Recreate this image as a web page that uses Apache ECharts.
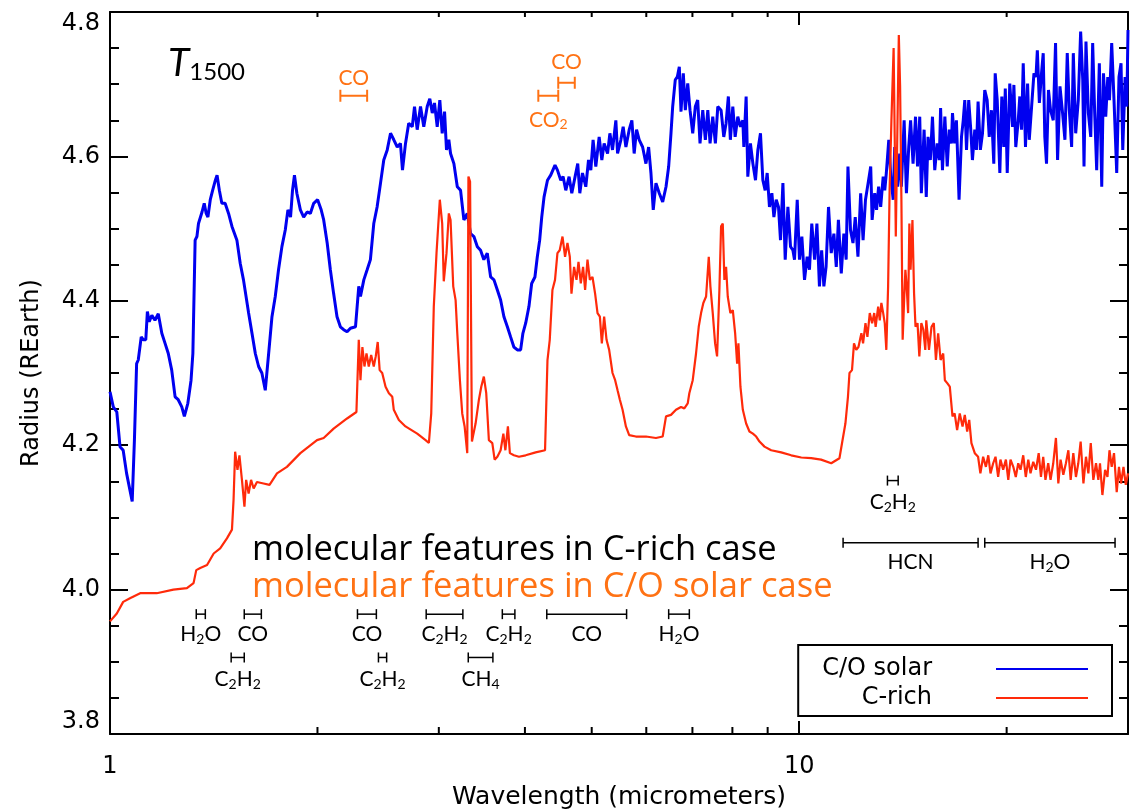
<!DOCTYPE html>
<html>
<head>
<meta charset="utf-8">
<script src="https://cdn.jsdelivr.net/npm/echarts@6/dist/echarts.min.js"></script>
<style>
  html, body { margin: 0; padding: 0; background: #fff; }
  #chart { width: 1142px; height: 812px; }
</style>
</head>
<body>
<div id="chart"></div>
<script>
// Transmission spectrum, T = 1500 K: planet radius versus wavelength
const solarWavelength = [
  1.000,1.011,1.023,1.034,1.045,1.057,1.077,1.085,1.093,1.099,1.110,1.118,1.127,1.133,1.140,1.150,1.162,1.175,1.189,1.202,
  1.215,1.229,1.243,1.256,1.271,1.282,1.297,1.311,1.319,1.329,1.337,1.344,1.360,1.370,1.379,1.387,1.398,1.409,1.422,1.430,
  1.441,1.453,1.469,1.486,1.503,1.528,1.545,1.562,1.589,1.607,1.625,1.643,1.661,1.680,1.699,1.718,1.737,1.756,1.776,1.796,
  1.812,1.828,1.840,1.852,1.867,1.889,1.910,1.932,1.953,1.975,2.001,2.025,2.042,2.066,2.088,2.111,2.135,2.159,2.183,2.208,
  2.233,2.271,2.296,2.309,2.335,2.361,2.387,2.414,2.441,2.469,2.496,2.525,2.553,2.581,2.611,2.639,2.657,2.684,2.713,2.745,
  2.766,2.791,2.822,2.853,2.886,2.911,2.935,2.957,2.984,3.010,3.034,3.058,3.078,3.102,3.120,3.155,3.191,3.226,3.262,3.299,
  3.336,3.373,3.412,3.449,3.487,3.527,3.567,3.607,3.648,3.688,3.729,3.772,3.813,3.855,3.900,3.943,3.973,4.010,4.054,4.091,
  4.136,4.169,4.202,4.231,4.264,4.313,4.360,4.423,4.459,4.509,4.544,4.585,4.636,4.678,4.730,4.772,4.805,4.848,4.902,4.947,
  4.985,5.023,5.069,5.126,5.172,5.212,5.272,5.313,5.360,5.420,5.451,5.512,5.554,5.605,5.667,5.718,5.762,5.808,5.860,5.927,
  5.993,6.047,6.094,6.141,6.197,6.266,6.338,6.409,6.466,6.516,6.553,6.610,6.655,6.700,6.738,6.790,6.836,6.891,6.944,7.007,
  7.068,7.124,7.180,7.246,7.309,7.369,7.425,7.492,7.558,7.619,7.703,7.773,7.833,7.893,7.946,8.011,8.074,8.146,8.218,8.284,
  8.312,8.376,8.423,8.497,8.567,8.642,8.711,8.787,8.857,8.926,8.986,9.055,9.128,9.190,9.261,9.332,9.395,9.471,9.544,9.630,
  9.715,9.793,9.845,9.935,10.01,10.09,10.18,10.27,10.35,10.43,10.53,10.61,10.70,10.78,10.86,10.94,11.03,11.13,11.23,11.32,
  11.40,11.51,11.61,11.70,11.77,11.87,11.97,12.06,12.17,12.28,12.38,12.48,12.59,12.70,12.76,12.87,12.95,13.04,13.13,13.24,
  13.31,13.38,13.49,13.58,13.69,13.76,13.89,13.99,14.07,14.20,14.31,14.42,14.51,14.63,14.75,14.85,14.96,15.04,15.18,15.29,
  15.38,15.50,15.61,15.73,15.86,15.97,16.04,16.14,16.27,16.40,16.51,16.63,16.69,16.81,16.91,17.06,17.20,17.30,17.39,17.49,
  17.62,17.74,17.84,17.98,18.08,18.18,18.32,18.45,18.59,18.74,18.87,19.01,19.16,19.25,19.38,19.55,19.68,19.81,19.91,20.04,
  20.21,20.40,20.49,20.62,20.79,20.90,21.02,21.14,21.30,21.45,21.57,21.74,21.91,22.06,22.16,22.31,22.47,22.60,22.72,22.85,
  23.00,23.16,23.37,23.55,23.71,23.90,24.11,24.30,24.49,24.66,24.85,24.99,25.19,25.41,25.61,25.79,25.90,26.07,26.28,26.49,
  26.66,26.84,27.02,27.26,27.48,27.64,27.85,28.04,28.20,28.41,28.63,28.89,29.11,29.31,29.48,29.71,29.88,30.00
];
const solarRadius = [
  4.274,4.253,4.246,4.198,4.193,4.161,4.122,4.207,4.313,4.318,4.350,4.346,4.346,4.385,4.371,4.380,4.373,4.382,4.355,4.341,
  4.327,4.304,4.267,4.263,4.253,4.240,4.258,4.290,4.327,4.484,4.489,4.507,4.523,4.535,4.521,4.516,4.540,4.553,4.567,4.574,
  4.553,4.535,4.535,4.521,4.503,4.484,4.452,4.429,4.383,4.355,4.327,4.309,4.300,4.276,4.327,4.378,4.406,4.443,4.475,4.498,
  4.526,4.516,4.553,4.574,4.549,4.526,4.516,4.523,4.521,4.535,4.540,4.526,4.512,4.480,4.443,4.410,4.378,4.364,4.360,4.357,
  4.362,4.364,4.420,4.406,4.429,4.443,4.457,4.507,4.530,4.563,4.595,4.609,4.632,4.623,4.613,4.618,4.581,4.618,4.646,4.641,
  4.669,4.637,4.669,4.641,4.669,4.680,4.660,4.674,4.641,4.678,4.632,4.662,4.609,4.623,4.604,4.590,4.558,4.553,4.512,4.521,
  4.493,4.489,4.475,4.470,4.457,4.466,4.433,4.429,4.415,4.401,4.378,4.364,4.350,4.336,4.332,4.332,4.355,4.369,4.392,4.424,
  4.433,4.461,4.484,4.516,4.544,4.567,4.574,4.588,4.581,4.567,4.572,4.553,4.572,4.549,4.572,4.590,4.549,4.577,4.558,4.595,
  4.581,4.623,4.586,4.627,4.595,4.618,4.604,4.632,4.609,4.650,4.604,4.623,4.641,4.613,4.637,4.650,4.604,4.637,4.623,4.613,
  4.590,4.613,4.577,4.526,4.563,4.549,4.537,4.558,4.586,4.632,4.669,4.706,4.710,4.724,4.662,4.715,4.664,4.701,4.664,4.632,
  4.669,4.678,4.618,4.664,4.623,4.664,4.618,4.655,4.618,4.669,4.664,4.627,4.646,4.683,4.623,4.669,4.627,4.655,4.641,4.650,
  4.613,4.683,4.572,4.618,4.590,4.567,4.609,4.632,4.567,4.553,4.577,4.530,4.549,4.516,4.540,4.530,4.484,4.563,4.457,4.530,
  4.475,4.470,4.457,4.540,4.457,4.489,4.429,4.461,4.443,4.507,4.457,4.507,4.420,4.470,4.420,4.447,4.530,4.466,4.493,4.447,
  4.512,4.438,4.493,4.457,4.586,4.498,4.480,4.516,4.461,4.549,4.484,4.540,4.563,4.586,4.512,4.549,4.526,4.558,4.530,4.572,
  4.553,4.577,4.623,4.572,4.540,4.613,4.558,4.604,4.558,4.650,4.549,4.613,4.650,4.590,4.655,4.586,4.655,4.549,4.637,4.544,
  4.627,4.595,4.655,4.581,4.618,4.595,4.667,4.581,4.655,4.586,4.637,4.618,4.660,4.618,4.650,4.540,4.627,4.650,4.678,4.609,
  4.678,4.637,4.595,4.637,4.609,4.676,4.609,4.632,4.692,4.678,4.627,4.664,4.590,4.715,4.678,4.577,4.683,4.613,4.694,4.577,
  4.701,4.641,4.699,4.613,4.650,4.683,4.637,4.729,4.613,4.701,4.623,4.669,4.715,4.710,4.747,4.674,4.715,4.743,4.627,4.590,
  4.692,4.664,4.650,4.757,4.595,4.697,4.660,4.623,4.743,4.664,4.613,4.743,4.632,4.678,4.773,4.706,4.586,4.759,4.660,4.627,
  4.757,4.660,4.581,4.729,4.558,4.715,4.655,4.710,4.678,4.757,4.678,4.577,4.710,4.729,4.609,4.710,4.669,4.775
];
const cRichWavelength = [
  1.000,1.023,1.045,1.069,1.106,1.169,1.236,1.293,1.322,1.334,1.352,1.383,1.414,1.445,1.478,1.503,1.511,1.519,1.531,1.541,
  1.554,1.567,1.576,1.589,1.602,1.616,1.634,1.670,1.704,1.747,1.806,1.889,1.997,2.042,2.111,2.208,2.278,2.296,2.309,2.324,
  2.340,2.356,2.374,2.393,2.414,2.430,2.446,2.462,2.483,2.511,2.539,2.568,2.581,2.625,2.684,2.791,2.870,2.902,2.925,2.950,
  2.977,3.010,3.034,3.050,3.078,3.102,3.120,3.148,3.173,3.191,3.219,3.244,3.270,3.299,3.312,3.330,3.351,3.362,3.392,3.430,
  3.457,3.487,3.515,3.546,3.587,3.615,3.648,3.688,3.722,3.747,3.779,3.804,3.855,3.921,4.010,4.146,4.278,4.313,4.346,4.385,
  4.423,4.459,4.493,4.535,4.574,4.611,4.647,4.673,4.714,4.752,4.784,4.821,4.858,4.891,4.930,4.969,5.013,5.057,5.098,5.138,
  5.172,5.212,5.254,5.300,5.360,5.407,5.451,5.493,5.543,5.605,5.667,5.795,5.993,6.197,6.338,6.409,6.516,6.626,6.738,6.813,
  6.891,6.928,7.007,7.085,7.149,7.205,7.260,7.327,7.393,7.433,7.492,7.551,7.601,7.660,7.703,7.747,7.789,7.833,7.877,7.946,
  8.011,8.074,8.128,8.163,8.218,8.284,8.376,8.469,8.567,8.662,8.758,8.905,9.107,9.417,9.737,10.07,10.41,10.76,11.13,11.44,
  11.54,11.67,11.77,11.83,11.93,12.01,12.10,12.19,12.31,12.38,12.48,12.56,12.66,12.76,12.85,12.91,13.02,13.09,13.16,13.24,
  13.31,13.38,13.46,13.53,13.61,13.71,13.76,13.81,13.89,13.95,14.01,14.07,14.13,14.20,14.26,14.32,14.39,14.45,14.51,14.60,
  14.68,14.75,14.85,14.94,15.04,15.14,15.24,15.29,15.43,15.56,15.68,15.79,15.91,16.04,16.18,16.27,16.40,16.54,16.69,16.81,
  16.95,17.10,17.26,17.39,17.53,17.65,17.78,17.98,18.18,18.32,18.49,18.66,18.81,18.95,19.12,19.27,19.44,19.59,19.77,19.95,
  20.11,20.26,20.45,20.62,20.79,20.95,21.14,21.32,21.50,21.66,21.86,22.06,22.26,22.43,22.60,22.77,22.98,23.16,23.37,23.58,
  23.77,23.95,24.17,24.38,24.58,24.77,24.99,25.21,25.41,25.61,25.85,26.07,26.28,26.49,26.72,26.96,27.17,27.32,27.54,27.79,
  28.01,28.20,28.41,28.63,28.89,29.11,29.31,29.55,29.78,30.00
];
const cRichRadius = [
  3.956,3.967,3.983,3.988,3.995,3.995,4.000,4.002,4.009,4.027,4.030,4.034,4.050,4.057,4.071,4.083,4.124,4.191,4.166,4.186,
  4.152,4.115,4.152,4.133,4.152,4.140,4.149,4.147,4.145,4.161,4.170,4.189,4.207,4.210,4.223,4.237,4.246,4.346,4.290,4.336,
  4.309,4.327,4.309,4.325,4.309,4.323,4.343,4.304,4.300,4.281,4.272,4.267,4.249,4.235,4.226,4.216,4.207,4.203,4.244,4.392,
  4.466,4.540,4.507,4.427,4.466,4.521,4.512,4.420,4.401,4.355,4.290,4.244,4.226,4.189,4.572,4.565,4.205,4.212,4.230,4.263,
  4.281,4.295,4.272,4.207,4.203,4.180,4.184,4.193,4.216,4.193,4.226,4.189,4.186,4.184,4.186,4.190,4.193,4.318,4.346,4.415,
  4.429,4.466,4.470,4.489,4.461,4.480,4.461,4.410,4.447,4.429,4.454,4.424,4.447,4.415,4.457,4.429,4.433,4.410,4.383,4.378,
  4.341,4.378,4.346,4.332,4.300,4.290,4.276,4.263,4.249,4.226,4.214,4.212,4.212,4.210,4.212,4.240,4.242,4.249,4.253,4.251,
  4.258,4.272,4.290,4.327,4.364,4.383,4.397,4.406,4.461,4.420,4.383,4.341,4.323,4.415,4.503,4.507,4.429,4.447,4.406,4.383,
  4.387,4.355,4.313,4.341,4.281,4.249,4.230,4.219,4.216,4.212,4.205,4.198,4.193,4.190,4.186,4.183,4.182,4.180,4.175,4.182,
  4.203,4.230,4.267,4.300,4.304,4.341,4.332,4.336,4.355,4.341,4.369,4.350,4.383,4.369,4.383,4.364,4.392,4.373,4.397,4.383,
  4.369,4.332,4.420,4.558,4.650,4.750,4.627,4.489,4.650,4.768,4.697,4.544,4.346,4.401,4.443,4.420,4.383,4.507,4.443,4.512,
  4.410,4.364,4.369,4.323,4.369,4.360,4.332,4.373,4.332,4.364,4.369,4.318,4.355,4.318,4.327,4.290,4.286,4.281,4.240,4.244,
  4.221,4.244,4.226,4.242,4.219,4.235,4.203,4.189,4.184,4.161,4.184,4.170,4.186,4.161,4.175,4.184,4.156,4.180,4.166,4.180,
  4.152,4.180,4.170,4.156,4.175,4.166,4.186,4.156,4.180,4.161,4.177,4.166,4.189,4.156,4.184,4.152,4.175,4.152,4.175,4.210,
  4.147,4.180,4.159,4.175,4.193,4.152,4.189,4.156,4.175,4.205,4.147,4.184,4.161,4.203,4.152,4.175,4.152,4.175,4.131,4.166,
  4.156,4.193,4.170,4.189,4.135,4.170,4.147,4.170,4.145,4.161
];

// Axis ranges and tick values
const wavelengthRange = [1, 30];
const radiusRange = [3.8, 4.8];
const radiusStep = 0.2;
const wavelengthMinorTicks = [2, 3, 4, 5, 6, 7, 8, 9, 20];

// Molecular bands for the carbon-rich atmosphere (wavelength span in micrometers, drawn at a radius level)
const cRichFeatureLabels = ['H{s|2}O', 'CO', 'C{s|2}H{s|2}', 'CO', 'C{s|2}H{s|2}', 'C{s|2}H{s|2}', 'C{s|2}H{s|2}',
                            'CH{s|4}', 'CO', 'H{s|2}O', 'C{s|2}H{s|2}', 'HCN', 'H{s|2}O'];
const cRichFeatureFrom  = [1.334, 1.566, 1.499, 2.286, 2.452, 2.876, 3.709, 3.310, 4.303, 6.466, 13.43, 11.58, 18.59];
const cRichFeatureTo    = [1.375, 1.658, 1.566, 2.435, 2.520, 3.251, 3.868, 3.594, 5.618, 6.928, 13.92, 18.18, 28.73];
const cRichFeatureLevel = [3.966, 3.966, 3.906, 3.966, 3.906, 3.966, 3.966, 3.906, 3.966, 3.966, 4.151, 4.065, 4.065];

// Molecular bands for the solar C/O atmosphere
const solarFeatureLabels = ['CO', 'CO{s|2}', 'CO'];
const solarFeatureFrom   = [2.159, 4.183, 4.471];
const solarFeatureTo     = [2.361, 4.471, 4.725];
const solarFeatureLevel  = [4.684, 4.684, 4.702];

// Label placement (pixels from the band bar; negative = above)
const cRichLabelOffset = [20, 20, 22, 20, 22, 20, 20, 22, 20, 20, 22, 20, 20];
const solarLabelOffset = [-18, 24, -21];

const BLUE = '#0000f0';
const RED = '#ff2a0a';
const ORANGE = '#ff7214';
const ANNOT_FONT = 'Lato';
const NOTE_FONT = 'Open Sans';
const AXIS_FONT = 'DejaVu Sans';

function zip(xs, ys) { return xs.map((x, i) => [x, ys[i]]); }

function featureSeries(labels, from, to, level, offsets, color, lineWidth, cap) {
  return {
    type: 'custom',
    silent: true,
    z: 5,
    encode: { x: [0, 1], y: 2 },
    data: from.map((f, i) => [f, to[i], level[i]]),
    renderItem: function (params, api) {
      const i = params.dataIndex;
      const a = api.coord([api.value(0), api.value(2)]);
      const b = api.coord([api.value(1), api.value(2)]);
      const lineStyle = { stroke: color, lineWidth: lineWidth };
      return {
        type: 'group',
        children: [
          { type: 'line', shape: { x1: a[0], y1: a[1], x2: b[0], y2: b[1] }, style: lineStyle },
          { type: 'line', shape: { x1: a[0], y1: a[1] - cap, x2: a[0], y2: a[1] + cap }, style: lineStyle },
          { type: 'line', shape: { x1: b[0], y1: b[1] - cap, x2: b[0], y2: b[1] + cap }, style: lineStyle },
          {
            type: 'text',
            x: (a[0] + b[0]) / 2,
            y: a[1] + offsets[i],
            style: {
              text: labels[i],
              fill: color,
              fontFamily: ANNOT_FONT,
              fontSize: 21,
              lineHeight: 24,
              align: 'center',
              verticalAlign: 'middle',
              rich: {
                s: { fontFamily: ANNOT_FONT, fontSize: 14, lineHeight: 14, verticalAlign: 'bottom', fill: color }
              }
            }
          }
        ]
      };
    }
  };
}

const chart = echarts.init(document.getElementById('chart'), null, { renderer: 'canvas' });

const axisLine = { show: true, lineStyle: { color: '#000', width: 2 } };
const tickLine = { color: '#000', width: 2 };

chart.setOption({
  animation: false,
  backgroundColor: '#fff',
  grid: { left: 110, right: 14, top: 12, bottom: 78, containLabel: false, outerBoundsMode: 'none' },
  xAxis: [
    {
      type: 'log', logBase: 10, min: wavelengthRange[0], max: wavelengthRange[1],
      position: 'bottom',
      axisLine: axisLine,
      axisTick: { show: true, inside: true, length: 13, lineStyle: tickLine },
      splitLine: { show: false },
      axisLabel: { color: '#000', fontFamily: AXIS_FONT, fontSize: 24, margin: 21, showMaxLabel: false },
      name: 'Wavelength (micrometers)',
      nameLocation: 'middle',
      nameGap: 51,
      nameTextStyle: { color: '#000', fontFamily: AXIS_FONT, fontSize: 25 }
    },
    {
      type: 'log', logBase: 10, min: wavelengthRange[0], max: wavelengthRange[1],
      position: 'top',
      axisLine: axisLine,
      axisTick: { show: true, inside: true, length: 13, lineStyle: tickLine },
      splitLine: { show: false },
      axisLabel: { show: false }
    }
  ],
  yAxis: [
    {
      type: 'value', min: radiusRange[0], max: radiusRange[1], interval: radiusStep,
      position: 'left',
      axisLine: axisLine,
      axisTick: { show: true, inside: true, length: 18, lineStyle: tickLine },
      minorTick: { show: true, splitNumber: 4, length: 9, lineStyle: tickLine },
      splitLine: { show: false },
      minorSplitLine: { show: false },
      axisLabel: {
        color: '#000', fontFamily: AXIS_FONT, fontSize: 24, margin: 10,
        formatter: v => v.toFixed(1),
        verticalAlignMaxLabel: 'top',
        verticalAlignMinLabel: 'bottom'
      },
      name: 'Radius (REarth)',
      nameLocation: 'middle',
      nameGap: 66,
      nameTextStyle: { color: '#000', fontFamily: AXIS_FONT, fontSize: 24 }
    },
    {
      type: 'value', min: radiusRange[0], max: radiusRange[1], interval: radiusStep,
      position: 'right',
      axisLine: axisLine,
      axisTick: { show: true, inside: true, length: 18, lineStyle: tickLine },
      minorTick: { show: true, splitNumber: 4, length: 9, lineStyle: tickLine },
      splitLine: { show: false },
      axisLabel: { show: false }
    }
  ],
  legend: {
    data: ['C/O solar', 'C-rich'],
    orient: 'vertical',
    align: 'right',
    icon: 'rect',
    right: 30,
    top: 645,
    itemWidth: 92,
    itemHeight: 2,
    itemGap: 5,
    padding: [12, 24, 6, 24],
    borderColor: '#000',
    borderWidth: 2,
    borderRadius: 0,
    selectedMode: false,
    textStyle: { color: '#000', fontFamily: AXIS_FONT, fontSize: 24, padding: [0, 59, 0, 0] }
  },
  graphic: [
    {
      type: 'text', x: 168, y: 63, silent: true,
      style: {
        text: '{t|T}{n|1500}',
        verticalAlign: 'middle',
        rich: {
          t: { fontFamily: ANNOT_FONT, fontStyle: 'italic', fontSize: 39, lineHeight: 42, fill: '#000' },
          n: { fontFamily: ANNOT_FONT, fontSize: 24, lineHeight: 24, verticalAlign: 'bottom', fill: '#000' }
        }
      }
    },
    {
      type: 'text', x: 252, y: 550, silent: true,
      style: { text: 'molecular features in C-rich case', fontFamily: NOTE_FONT, fontSize: 34.5, fill: '#000', verticalAlign: 'middle' }
    },
    {
      type: 'text', x: 252, y: 587, silent: true,
      style: { text: 'molecular features in C/O solar case', fontFamily: NOTE_FONT, fontSize: 34.5, fill: ORANGE, verticalAlign: 'middle' }
    }
  ],
  series: [
    {
      name: 'C/O solar', type: 'line', data: zip(solarWavelength, solarRadius),
      showSymbol: false, symbol: 'none', z: 2,
      lineStyle: { color: BLUE, width: 3 }, itemStyle: { color: BLUE }
    },
    {
      name: 'C-rich', type: 'line', data: zip(cRichWavelength, cRichRadius),
      showSymbol: false, symbol: 'none', z: 3,
      lineStyle: { color: RED, width: 2.2 }, itemStyle: { color: RED }
    },
    {
      // logarithmic minor ticks on the bottom and top wavelength axes
      type: 'custom', silent: true, z: 6,
      encode: { x: 0, y: 1 },
      data: wavelengthMinorTicks.map(v => [v, radiusRange[0]]),
      renderItem: function (params, api) {
        const v = api.value(0);
        const b = api.coord([v, radiusRange[0]]);
        const t = api.coord([v, radiusRange[1]]);
        const st = { stroke: '#000', lineWidth: 2 };
        return {
          type: 'group',
          children: [
            { type: 'line', shape: { x1: b[0], y1: b[1], x2: b[0], y2: b[1] - 7 }, style: st },
            { type: 'line', shape: { x1: t[0], y1: t[1], x2: t[0], y2: t[1] + 5 }, style: st }
          ]
        };
      }
    },
    featureSeries(cRichFeatureLabels, cRichFeatureFrom, cRichFeatureTo, cRichFeatureLevel, cRichLabelOffset, '#000', 1.5, 5),
    featureSeries(solarFeatureLabels, solarFeatureFrom, solarFeatureTo, solarFeatureLevel, solarLabelOffset, ORANGE, 2, 6)
  ]
});
</script>
</body>
</html>
